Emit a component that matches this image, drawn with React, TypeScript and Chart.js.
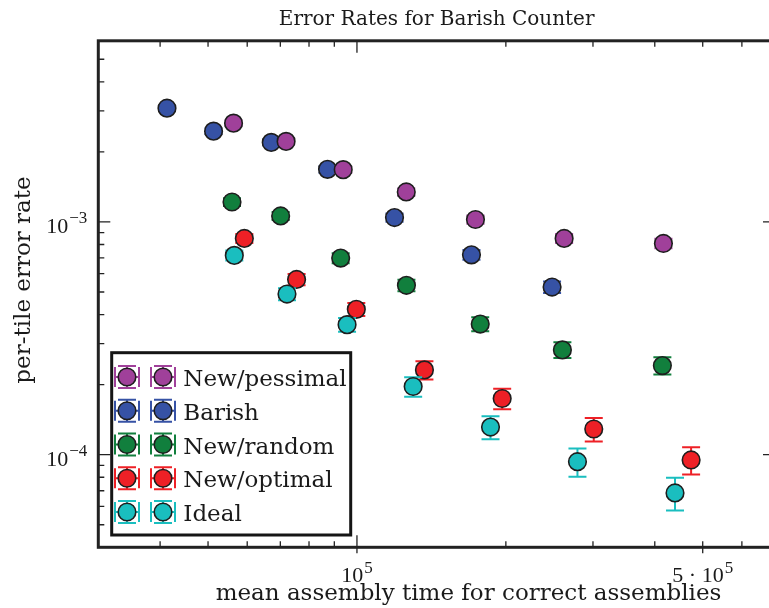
import React, { useEffect, useRef } from "react";
import { Chart, registerables } from "chart.js";

Chart.register(...registerables);

// ---- data ----
const SERIES_LABELS = ["New/pessimal", "Barish", "New/random", "New/optimal", "Ideal"];
const SERIES_COLORS = ["#a0409a", "#3652a5", "#117f3d", "#ee2026", "#1abebf"];
const SERIES_ORDER = [4, 5, 3, 2, 1];

const pessimalX = [56300, 71900, 93800, 125800, 173600, 262300, 416400];
const pessimalY = [2.657e-3, 2.218e-3, 1.677e-3, 1.345e-3, 1.024e-3, 8.49e-4, 8.08e-4];
const pessimalErr = [6.9e-5, 6.2e-5, 5.4e-5, 4.8e-5, 4.2e-5, 3.8e-5, 3.8e-5];

const barishX = [41300, 51300, 67100, 87200, 119100, 170400, 248000];
const barishY = [3.081e-3, 2.455e-3, 2.196e-3, 1.682e-3, 1.044e-3, 7.22e-4, 5.25e-4];
const barishErr = [7.4e-5, 6.6e-5, 6.2e-5, 5.4e-5, 4.3e-5, 3.5e-5, 3.0e-5];

const randomX = [55900, 70100, 92700, 125900, 177500, 260200, 414400];
const randomY = [1.218e-3, 1.061e-3, 6.99e-4, 5.34e-4, 3.64e-4, 2.82e-4, 2.414e-4];
const randomErr = [4.6e-5, 4.3e-5, 3.5e-5, 3.0e-5, 2.5e-5, 2.2e-5, 2.05e-5];

const optimalX = [59200, 75500, 99700, 136900, 196600, 301100, 473700];
const optimalY = [8.49e-4, 5.66e-4, 4.21e-4, 2.313e-4, 1.743e-4, 1.289e-4, 9.49e-5];
const optimalErr = [3.8e-5, 3.2e-5, 2.7e-5, 2.1e-5, 1.75e-5, 1.5e-5, 1.28e-5];

const idealX = [56500, 72200, 95500, 129900, 186200, 279100, 439500];
const idealY = [7.18e-4, 4.9e-4, 3.62e-4, 1.963e-4, 1.314e-4, 9.33e-5, 6.85e-5];
const idealErr = [3.5e-5, 2.9e-5, 2.5e-5, 1.9e-5, 1.5e-5, 1.3e-5, 1.1e-5];

const SERIES_X = [pessimalX, barishX, randomX, optimalX, idealX];
const SERIES_Y = [pessimalY, barishY, randomY, optimalY, idealY];
const SERIES_ERR = [pessimalErr, barishErr, randomErr, optimalErr, idealErr];

// ---- axes ----
const X_MIN = 3e4;
const X_MAX = 7e5;
const Y_MIN = 4e-5;
const Y_MAX = 6e-3;
const xMajorTicks = [1e5];
const xMinorTicks = [4e4, 5e4, 6e4, 7e4, 8e4, 9e4, 2e5, 3e5, 4e5, 5e5, 6e5];
const yMajorTicks = [1e-4, 1e-3];
const yMinorTicks = [5e-5, 6e-5, 7e-5, 8e-5, 9e-5, 2e-4, 3e-4, 4e-4, 5e-4, 6e-4, 7e-4, 8e-4, 9e-4, 2e-3, 3e-3, 4e-3, 5e-3];
const xLabelValues = [1e5, 5e5];
const xLabelBases = ["10", "5 · 10"];
const xLabelSups = ["5", "5"];
const yLabelValues = [1e-3, 1e-4];
const yLabelBases = ["10", "10"];
const yLabelSups = ["\u22123", "\u22124"];

const TITLE = "Error Rates for Barish Counter";
const X_TITLE = "mean assembly time for correct assemblies";
const Y_TITLE = "per-tile error rate";

const TEXT_FONT = '"DejaVu Serif", serif';
const NUM_FONT = '"Liberation Serif", serif';
const INK = "#222222";

function drawSupLabel(ctx: CanvasRenderingContext2D, base: string, sup: string, x: number, baseline: number, supBaseline: number, align: "right" | "center", right?: number) {
  ctx.font = `22px ${NUM_FONT}`;
  const wb = ctx.measureText(base).width;
  ctx.font = `17px ${NUM_FONT}`;
  const ws = ctx.measureText(sup).width;
  const gap = 1;
  const total = wb + gap + ws;
  const start = align === "right" ? x - total : x - total / 2;
  ctx.textAlign = "left";
  ctx.textBaseline = "alphabetic";
  ctx.font = `22px ${NUM_FONT}`;
  ctx.fillText(base, start, baseline);
  ctx.font = `17px ${NUM_FONT}`;
  ctx.fillText(sup, start + wb + gap, supBaseline);
}

function drawGlyph(ctx: CanvasRenderingContext2D, cx: number, cy: number, color: string) {
  ctx.strokeStyle = color;
  ctx.lineWidth = 2;
  ctx.beginPath();
  ctx.moveTo(cx, cy - 11); ctx.lineTo(cx, cy + 11);
  ctx.moveTo(cx - 9, cy - 11); ctx.lineTo(cx + 9, cy - 11);
  ctx.moveTo(cx - 9, cy + 11); ctx.lineTo(cx + 9, cy + 11);
  ctx.moveTo(cx - 12, cy); ctx.lineTo(cx + 12, cy);
  ctx.moveTo(cx - 12, cy - 10); ctx.lineTo(cx - 12, cy + 10);
  ctx.moveTo(cx + 12, cy - 10); ctx.lineTo(cx + 12, cy + 10);
  ctx.stroke();
  ctx.beginPath();
  ctx.arc(cx, cy, 8.8, 0, Math.PI * 2);
  ctx.fillStyle = color;
  ctx.fill();
  ctx.lineWidth = 1.6;
  ctx.strokeStyle = "#1e1e1e";
  ctx.stroke();
}

const errorBarPlugin = {
  id: "errorBars",
  beforeDatasetDraw(chart: any, args: any) {
    const ds = chart.data.datasets[args.index];
    const xs = chart.scales.x;
    const ys = chart.scales.y;
    const ctx: CanvasRenderingContext2D = chart.ctx;
    ctx.save();
    ctx.strokeStyle = ds.backgroundColor;
    ctx.lineWidth = 2;
    ctx.beginPath();
    for (const p of ds.data) {
      const px = xs.getPixelForValue(p.x);
      const t = ys.getPixelForValue(p.y + p.e);
      const b = ys.getPixelForValue(p.y - p.e);
      ctx.moveTo(px, t); ctx.lineTo(px, b);
      ctx.moveTo(px - 9, t); ctx.lineTo(px + 9, t);
      ctx.moveTo(px - 9, b); ctx.lineTo(px + 9, b);
    }
    ctx.stroke();
    ctx.restore();
  },
};

const framePlugin = {
  id: "frame",
  afterDraw(chart: any) {
    const ctx: CanvasRenderingContext2D = chart.ctx;
    const { left, right, top, bottom } = chart.chartArea;
    const xs = chart.scales.x;
    const ys = chart.scales.y;
    ctx.save();
    ctx.fillStyle = INK;
    ctx.strokeStyle = INK;
    // ticks
    ctx.lineWidth = 1.3;
    ctx.beginPath();
    for (const v of xMinorTicks) {
      const px = xs.getPixelForValue(v);
      const out = xLabelValues.includes(v) ? 6 : 0;
      ctx.moveTo(px, bottom + out); ctx.lineTo(px, bottom - 6);
      ctx.moveTo(px, top); ctx.lineTo(px, top + 6);
    }
    for (const v of xMajorTicks) {
      const px = xs.getPixelForValue(v);
      ctx.moveTo(px, bottom + 6); ctx.lineTo(px, bottom - 12);
      ctx.moveTo(px, top); ctx.lineTo(px, top + 12);
    }
    for (const v of yMinorTicks) {
      const py = ys.getPixelForValue(v);
      ctx.moveTo(left, py); ctx.lineTo(left + 6, py);
      ctx.moveTo(right, py); ctx.lineTo(right - 6, py);
    }
    for (const v of yMajorTicks) {
      const py = ys.getPixelForValue(v);
      ctx.moveTo(left, py); ctx.lineTo(left + 12, py);
      ctx.moveTo(right, py); ctx.lineTo(right - 12, py);
    }
    ctx.stroke();
    // frame
    ctx.lineWidth = 3;
    ctx.strokeRect(left, top, right - left, bottom - top);

    // tick labels
    ctx.fillStyle = "#1a1a1a";
    xLabelValues.forEach((v, i) => {
      const px = xs.getPixelForValue(v);
      drawSupLabel(ctx, xLabelBases[i], xLabelSups[i], px, bottom + 34.4, bottom + 25.4, "center");
    });
    yLabelValues.forEach((v, i) => {
      const py = ys.getPixelForValue(v);
      drawSupLabel(ctx, yLabelBases[i], yLabelSups[i], left - 11, py + 11.3, py + 1.3, "right");
    });

    // titles
    ctx.textAlign = "center";
    ctx.textBaseline = "alphabetic";
    ctx.font = `20px ${TEXT_FONT}`;
    ctx.fillText(TITLE, (left + right) / 2, 25);
    ctx.font = `23px ${TEXT_FONT}`;
    ctx.fillText(X_TITLE, 468.5, 600);
    ctx.save();
    ctx.translate(30, 280);
    ctx.rotate(-Math.PI / 2);
    ctx.fillText(Y_TITLE, 0, 0);
    ctx.restore();

    // legend
    const lx0 = 111.7, ly0 = 352.7, lx1 = 350.7, ly1 = 535;
    ctx.fillStyle = "#ffffff";
    ctx.fillRect(lx0, ly0, lx1 - lx0, ly1 - ly0);
    ctx.lineWidth = 3;
    ctx.strokeStyle = "#151515";
    ctx.strokeRect(lx0, ly0, lx1 - lx0, ly1 - ly0);
    chart.data.datasets.forEach((ds: any, i: number) => {
      const cy = 377 + i * 33.75;
      drawGlyph(ctx, 127, cy, ds.backgroundColor);
      drawGlyph(ctx, 163, cy, ds.backgroundColor);
      ctx.fillStyle = "#1a1a1a";
      ctx.font = `23px ${TEXT_FONT}`;
      ctx.textAlign = "left";
      ctx.textBaseline = "alphabetic";
      ctx.fillText(ds.label, 183.3, cy + 9);
    });
    ctx.restore();
  },
};

export default function App() {
  const ref = useRef<HTMLCanvasElement>(null);
  useEffect(() => {
    if (!ref.current) return;
    const datasets = SERIES_LABELS.map((label, i) => ({
      label,
      order: SERIES_ORDER[i],
      data: SERIES_X[i].map((x, j) => ({ x, y: SERIES_Y[i][j], e: SERIES_ERR[i][j] })),
      backgroundColor: SERIES_COLORS[i],
      borderColor: "#1e1e1e",
      pointRadius: 8.8,
      pointHoverRadius: 8.8,
      pointBorderWidth: 1.6,
      showLine: false,
    }));
    const chart = new Chart(ref.current, {
      type: "scatter",
      data: { datasets },
      options: {
        animation: false,
        responsive: false,
        devicePixelRatio: 1,
        events: [],
        layout: { padding: { top: 40.8, right: 25, bottom: 0, left: 0 } },
        plugins: {
          legend: { display: false },
          title: { display: false },
          tooltip: { enabled: false },
        },
        scales: {
          x: {
            type: "logarithmic",
            min: X_MIN,
            max: X_MAX,
            grid: { display: false, drawTicks: false },
            border: { display: false },
            ticks: { display: false },
            afterFit: (s: any) => { s.height = 608 - 547.3; },
          },
          y: {
            type: "logarithmic",
            min: Y_MIN,
            max: Y_MAX,
            grid: { display: false, drawTicks: false },
            border: { display: false },
            ticks: { display: false },
            afterFit: (s: any) => { s.width = 98.3; },
          },
        },
      } as any,
      plugins: [errorBarPlugin, framePlugin],
    });
    return () => chart.destroy();
  }, []);
  return (
    <div style={{ position: "fixed", left: 0, top: 0, width: 769, height: 608, overflow: "hidden", background: "#ffffff" }}>
      <canvas ref={ref} width={800} height={608} style={{ display: "block", width: 800, height: 608 }} />
    </div>
  );
}
